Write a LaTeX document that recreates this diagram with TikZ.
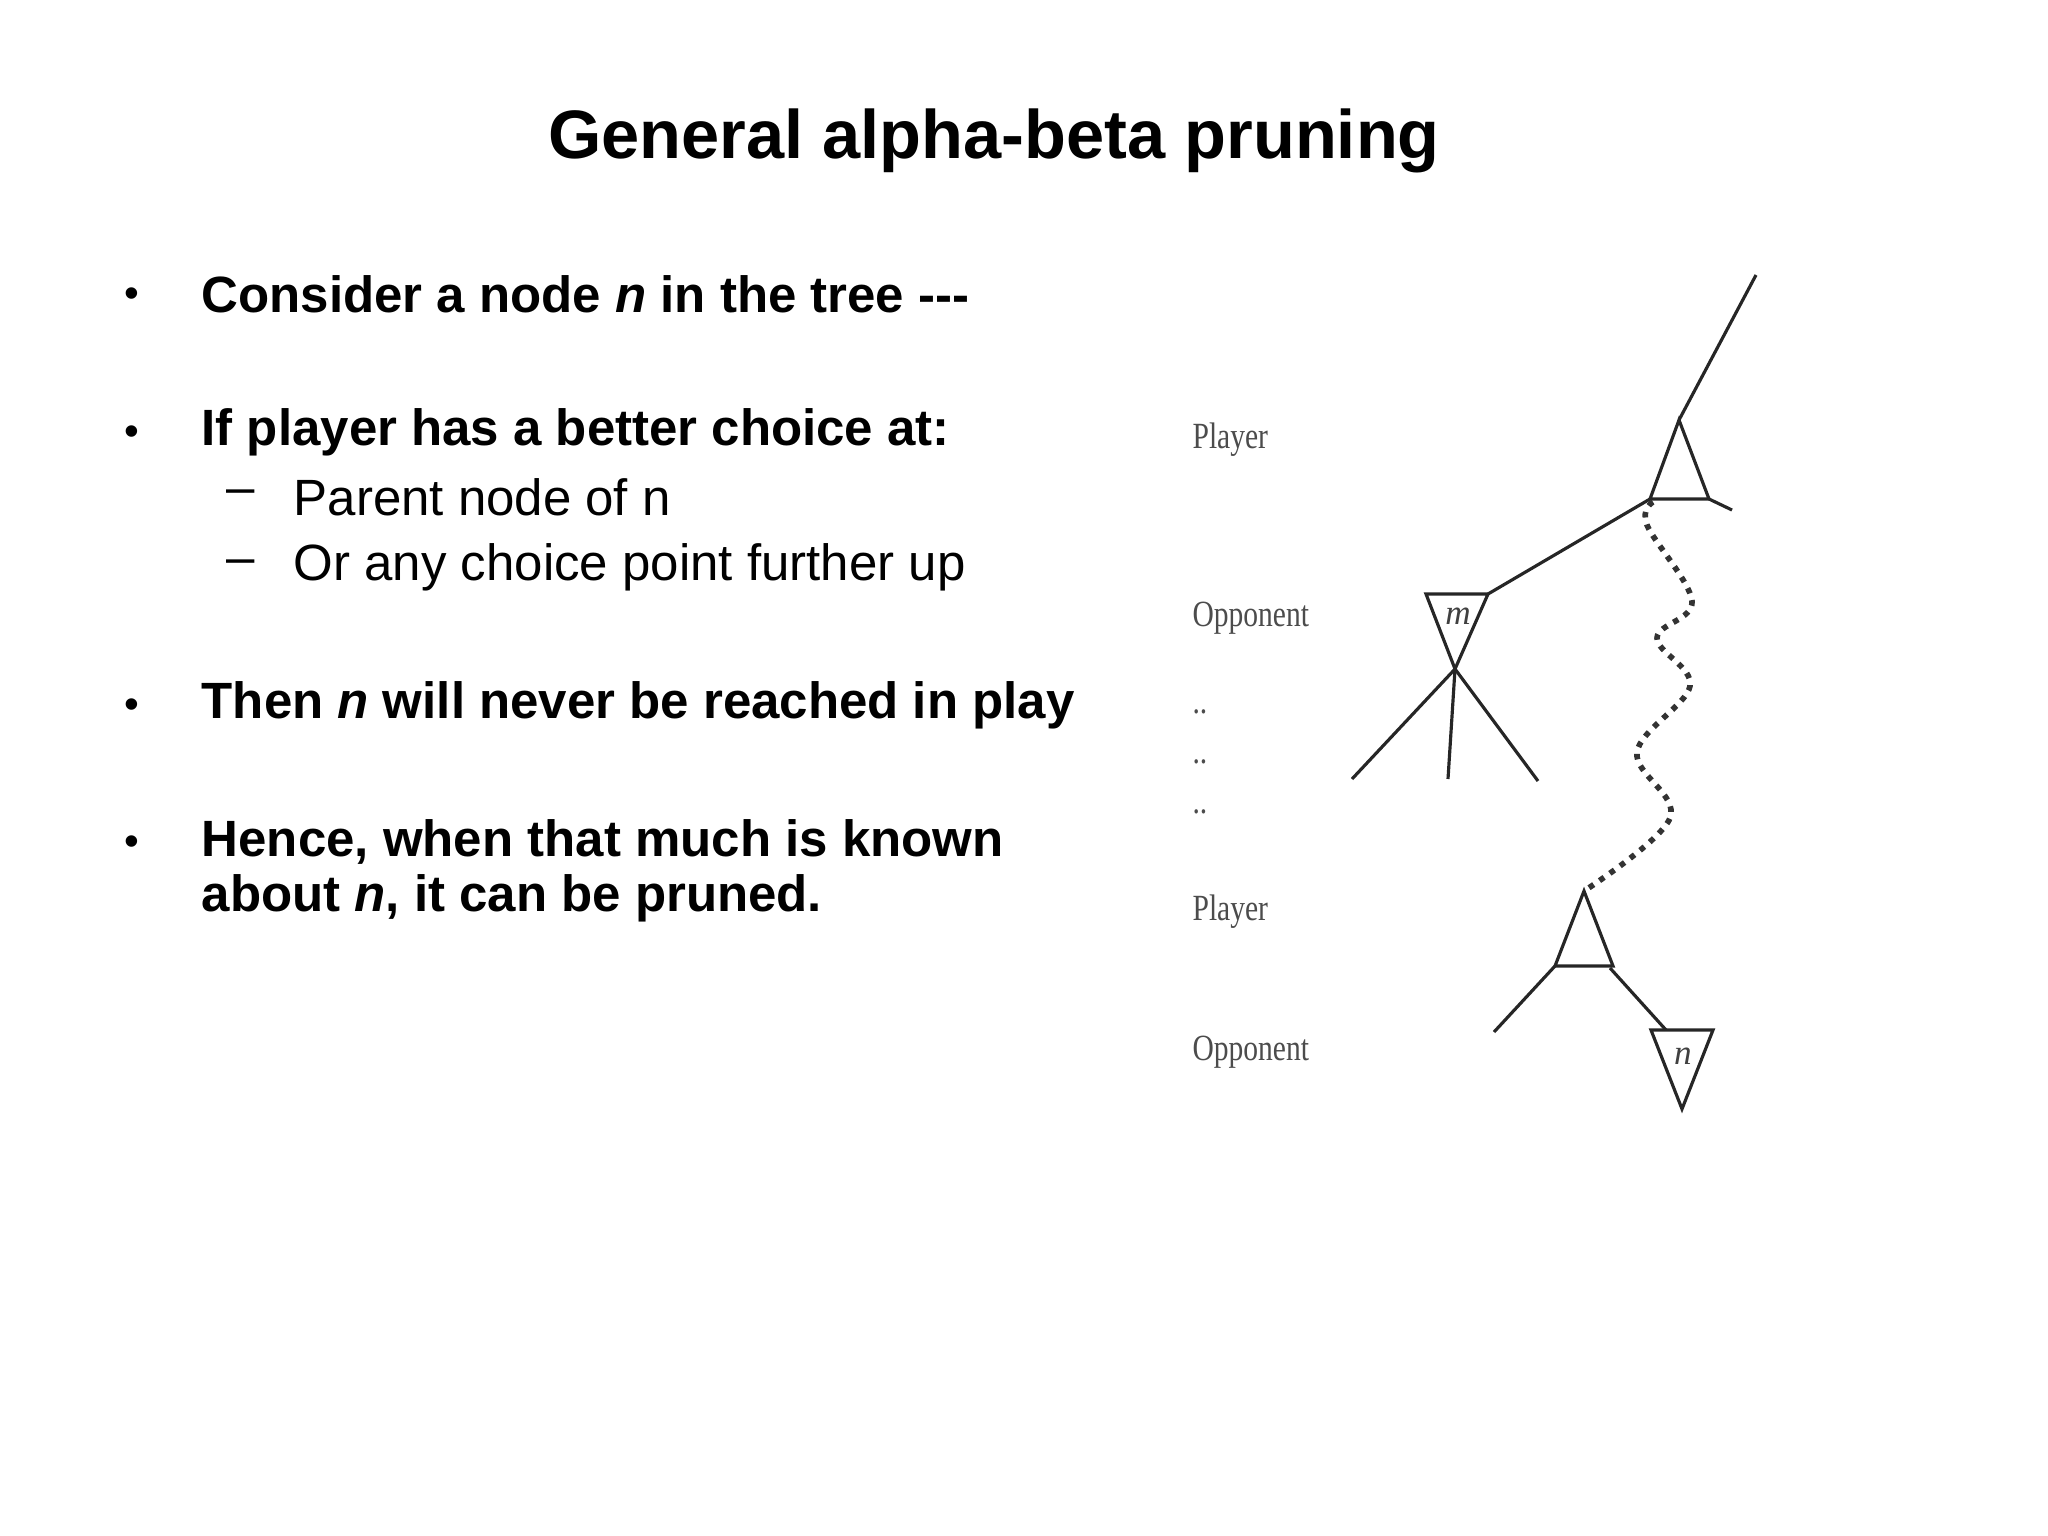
\documentclass[tikz,border=0pt]{standalone}
\usepackage{fontspec}
\setmainfont{Liberation Sans}
\newfontfamily\tms{Liberation Serif}
\begin{document}
\begin{tikzpicture}[x=0.01cm,y=-0.01cm,
  body/.style={anchor=west,inner sep=0pt,font=\fontsize{14.5}{17}\selectfont\bfseries},
  sub/.style={anchor=west,inner sep=0pt,font=\fontsize{14.5}{17}\selectfont},
  lvl/.style={anchor=west,inner sep=0pt,text=black!70,xscale=0.8,transform shape,font=\tms\fontsize{10.5}{12}\selectfont},
  tl/.style={line width=0.9pt,draw=black!85}]
\useasboundingbox (0,0) rectangle (2048,1536);
\node[font=\fontsize{19.5}{23}\selectfont\bfseries] (title) at (994,141) {General alpha-beta pruning};
\foreach \y/\n in {298/b1,436/b2,709/b3,846/b4}{\node[anchor=center] (\n) at (132,\y) {\fontsize{12}{14}\selectfont •};}
\node[body] (t1) at (201,294) {Consider a node \textit{n} in the tree {-}{-}{-}};
\node[body] (t2) at (201,432) {If player has a better choice at:};
\node[sub] (d1) at (226,497) {–}; \node[sub] (s1) at (293,497) {Parent node of n};
\node[sub] (d2) at (226,567) {–}; \node[sub] (s2) at (293,567) {Or any choice point further up};
\node[body] (t3) at (201,705) {Then \textit{n} will never be reached in play};
\node[body] (t4) at (201,842) {Hence, when that much is known};
\node[body] (t5) at (201,898) {about \textit{n}, it can be pruned.};
% level labels
\node[lvl] (l1) at (1192,440) {Player};
\node[lvl] (l2) at (1192,618) {Opponent};
\node[lvl] (l3) at (1192,712) {..};
\node[lvl] (l4) at (1192,762) {..};
\node[lvl] (l5) at (1192,812) {..};
\node[lvl] (l6) at (1192,912) {Player};
\node[lvl] (l7) at (1192,1052) {Opponent};
% tree
\coordinate (topA) at (1679,420);
\coordinate (topL) at (1650,499);
\coordinate (topR) at (1709,499);
\coordinate (up) at (1756,275);
\coordinate (stub) at (1732,510);
\draw[tl] (topL) -- (topA) -- (topR) -- cycle;
\draw[tl] (topA) -- (up);
\draw[tl] (topR) -- (stub);
\coordinate (mL) at (1426,594); \coordinate (mR) at (1488,594); \coordinate (mB) at (1455,669);
\draw[tl] (mL) -- (mR) -- (mB) -- cycle;
\node[font=\tms\itshape\fontsize{10}{11}\selectfont,text=black!75] (m) at (1458,616) {m};
\draw[tl] (topL) -- (mR);
\coordinate (c1) at (1352,779); \coordinate (c2) at (1448,779); \coordinate (c3) at (1538,781);
\draw[tl] (mB) -- (c1); \draw[tl] (mB) -- (c2); \draw[tl] (mB) -- (c3);
\coordinate (pA) at (1584,891); \coordinate (pL) at (1555,966); \coordinate (pR) at (1613,966);
\draw[tl] (pL) -- (pA) -- (pR) -- cycle;
\draw[line width=1.6pt,dotted,black!80] plot[smooth,tension=0.6] coordinates {(1653,502) (1647,525) (1692,601) (1657,638) (1690,686) (1637,752) (1670,818) (pA)};
\coordinate (lc) at (1494,1032);
\draw[tl] (pL) -- (lc);
\coordinate (nL) at (1651,1030); \coordinate (nR) at (1713,1030); \coordinate (nB) at (1682,1109);
\draw[tl] (1610,968) -- (1666,1030);
\draw[tl] (nL) -- (nR) -- (nB) -- cycle;
\node[font=\tms\itshape\fontsize{10}{11}\selectfont,text=black!75] (n) at (1683,1056) {n};
\end{tikzpicture}
\end{document}
